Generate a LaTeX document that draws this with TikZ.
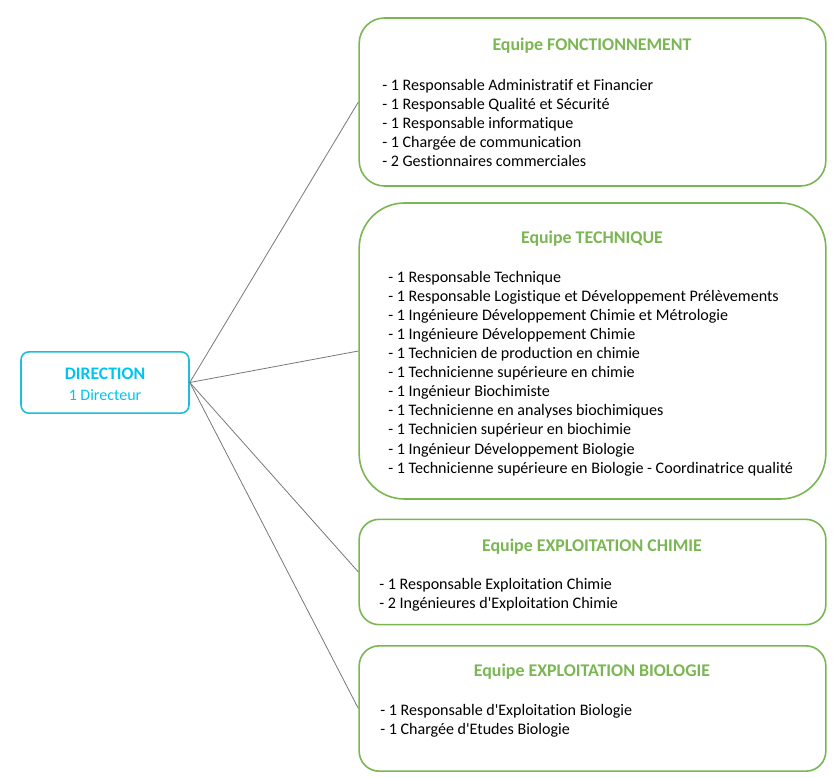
\documentclass[tikz,border=0pt]{standalone}
\usepackage{fontspec}
\setmainfont[Ligatures=NoCommon]{Carlito}
\definecolor{teamgreen}{RGB}{122,182,82}
\definecolor{dircyan}{RGB}{28,190,216}
\definecolor{dirtext}{RGB}{0,196,240}
\definecolor{linkgray}{RGB}{120,120,120}
\tikzset{
  team/.style={rectangle, draw=teamgreen, line width=1.2pt, minimum width=350pt},
  teamtitle/.style={text=teamgreen, font=\fontsize{13.4}{16}\selectfont\bfseries},
  members/.style={anchor=north west, inner sep=0pt, align=left, font=\fontsize{12.05}{14.3}\selectfont},
  link/.style={draw=linkgray, line width=0.6pt}
}

\begin{document}
\begin{tikzpicture}[x=0.75pt, y=-0.75pt]
\useasboundingbox (0,0) rectangle (839,777);

\node[rectangle, draw=dircyan, line width=1.2pt, rounded corners=6pt, minimum width=126pt, minimum height=46pt] (dir) at (105,382.5) {};
\node[text=dirtext, font=\fontsize{13.2}{16}\selectfont\bfseries] (dirname) at (105,374) {DIRECTION};
\node[text=dirtext, font=\fontsize{12}{14}\selectfont] (dirnb) at (105,395) {1 Directeur};

\node[team, rounded corners=19pt, minimum height=126pt] (fonct) at (592.5,102) {};
\node[teamtitle] (fonctT) at (592,46) {Equipe FONCTIONNEMENT};
\node[members] (fonctL) at (382,79) {- 1 Responsable Administratif et Financier\\- 1 Responsable Qualité et Sécurité\\- 1 Responsable informatique\\- 1 Chargée de communication\\- 2 Gestionnaires commerciales};

\node[team, rounded corners=34pt, minimum height=222pt] (tech) at (592.5,351) {};
\node[teamtitle] (techT) at (592,239) {Equipe TECHNIQUE};
\node[members] (techL) at (388,271) {- 1 Responsable Technique\\- 1 Responsable Logistique et Développement Prélèvements\\- 1 Ingénieure Développement Chimie et Métrologie\\- 1 Ingénieure Développement Chimie\\- 1 Technicien de production en chimie\\- 1 Technicienne supérieure en chimie\\- 1 Ingénieur Biochimiste\\- 1 Technicienne en analyses biochimiques\\- 1 Technicien supérieur en biochimie\\- 1 Ingénieur Développement Biologie\\- 1 Technicienne supérieure en Biologie - Coordinatrice qualité};

\node[team, rounded corners=15pt, minimum height=79pt] (chim) at (592.5,572) {};
\node[teamtitle] (chimT) at (592,547) {Equipe EXPLOITATION CHIMIE};
\node[members] (chimL) at (379,578) {- 1 Responsable Exploitation Chimie\\- 2 Ingénieures d\textquotesingle Exploitation Chimie};

\node[team, rounded corners=15pt, minimum height=94pt] (bio) at (592.5,708.5) {};
\node[teamtitle] (bioT) at (592,672) {Equipe EXPLOITATION BIOLOGIE};
\node[members] (bioL) at (380,704) {- 1 Responsable d\textquotesingle Exploitation Biologie\\- 1 Chargée d\textquotesingle Etudes Biologie};

\draw[link] (dir.east) -- (fonct.west);
\draw[link] (dir.east) -- (tech.west);
\draw[link] (dir.east) -- (chim.west);
\draw[link] (dir.east) -- (bio.west);
\end{tikzpicture}
\end{document}
